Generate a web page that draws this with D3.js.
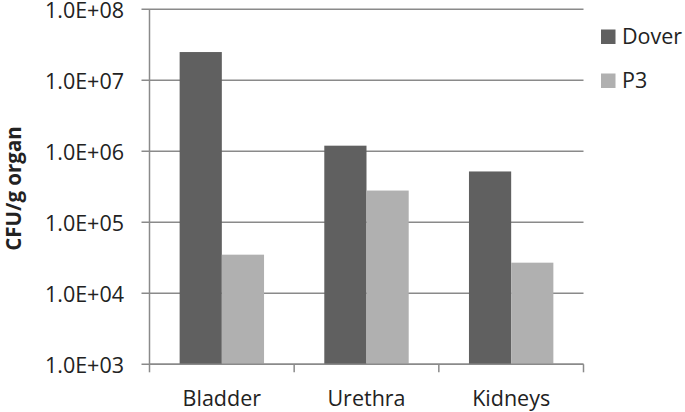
<!doctype html>
<html>
<head>
    <script src="https://d3js.org/d3.v7.min.js"></script>
    <style>
        body { margin: 0; background: #fff; }
        text { font-family: "Open Sans", sans-serif; fill: #222; }
    </style>
</head>
<body>
    <script>
        var organs = ["Bladder", "Urethra", "Kidneys"];
        var strains = ["Dover", "P3"];
        var dover = [2.5e7, 1.2e6, 5.2e5];
        var p3 = [3.5e4, 2.8e5, 2.7e4];
        var tickValues = [1e3, 1e4, 1e5, 1e6, 1e7, 1e8];
        var tickLabels = ["1.0E+03", "1.0E+04", "1.0E+05", "1.0E+06", "1.0E+07", "1.0E+08"];
        var colors = ["#606060", "#b0b0b0"];

        var width = 685;
        var height = 412;
        // note: "top" is reserved on window, so use plotTop etc.
        var plotLeft = 149.5, plotRight = 583.5, plotTop = 9.3, plotBottom = 364.3;
        var gridColor = "#8a8a8a";

        var svg = d3.select("body").append("svg")
            .attr("width", width)
            .attr("height", height);

        var y = d3.scaleLog()
            .domain([1e3, 1e8])
            .range([plotBottom, plotTop]);

        var x = d3.scaleBand()
            .domain(organs)
            .range([plotLeft, plotRight])
            .padding(0);

        // bars inside each organ group
        var xs = d3.scaleBand()
            .domain(strains)
            .range([0, x.bandwidth()])
            .paddingInner(0)
            .paddingOuter(0.714);

        // horizontal grid lines (with short ticks to the left)
        svg.append("g").selectAll("line")
            .data(tickValues)
            .enter().append("line")
            .attr("x1", plotLeft - 8)
            .attr("x2", plotRight)
            .attr("y1", function(d){ return y(d); })
            .attr("y2", function(d){ return y(d); })
            .attr("stroke", gridColor)
            .attr("stroke-width", 1.5);

        // y axis line
        svg.append("line")
            .attr("x1", plotLeft).attr("x2", plotLeft)
            .attr("y1", plotTop).attr("y2", plotBottom)
            .attr("stroke", gridColor)
            .attr("stroke-width", 1.5);

        // x axis ticks between groups
        var xTicks = organs.map(function(d){ return x(d); }).concat([plotRight]);
        svg.append("g").selectAll("line")
            .data(xTicks)
            .enter().append("line")
            .attr("x1", function(d){ return d; })
            .attr("x2", function(d){ return d; })
            .attr("y1", plotBottom)
            .attr("y2", plotBottom + 8)
            .attr("stroke", gridColor)
            .attr("stroke-width", 1.5);

        // bars
        var series = [dover, p3];
        strains.forEach(function(s, si){
            svg.append("g").selectAll("rect")
                .data(series[si])
                .enter().append("rect")
                .attr("x", function(d, i){ return x(organs[i]) + xs(s); })
                .attr("width", xs.bandwidth())
                .attr("y", function(d){ return y(d); })
                .attr("height", function(d){ return plotBottom - y(d); })
                .style("fill", colors[si]);
        });

        // bottom axis line drawn over the bars
        svg.append("line")
            .attr("x1", plotLeft).attr("x2", plotRight)
            .attr("y1", plotBottom).attr("y2", plotBottom)
            .attr("stroke", gridColor)
            .attr("stroke-width", 1.5);

        // y tick labels
        svg.append("g").selectAll("text")
            .data(tickValues)
            .enter().append("text")
            .attr("x", 124)
            .attr("y", function(d){ return y(d) + 8.5; })
            .attr("text-anchor", "end")
            .style("font-size", "21.5px")
            .text(function(d, i){ return tickLabels[i]; });

        // x category labels
        svg.append("g").selectAll("text")
            .data(organs)
            .enter().append("text")
            .attr("x", function(d){ return x(d) + x.bandwidth() / 2; })
            .attr("y", 405.5)
            .attr("text-anchor", "middle")
            .style("font-size", "21.5px")
            .text(function(d){ return d; });

        // y axis title
        svg.append("text")
            .attr("transform", "translate(21,188.5) rotate(-90)")
            .attr("text-anchor", "middle")
            .style("font-size", "20.5px")
            .style("font-weight", "bold")
            .text("CFU/g organ");

        // legend
        var legend = svg.append("g").selectAll("g")
            .data(strains)
            .enter().append("g")
            .attr("transform", function(d, i){ return "translate(601," + (44 + i * 44) + ")"; });

        legend.append("rect")
            .attr("x", 0)
            .attr("y", -14.5)
            .attr("width", 14.5)
            .attr("height", 14.5)
            .style("fill", function(d, i){ return colors[i]; });

        legend.append("text")
            .attr("x", 21)
            .attr("y", 0)
            .style("font-size", "21.5px")
            .text(function(d){ return d; });
    </script>
</body>
</html>
